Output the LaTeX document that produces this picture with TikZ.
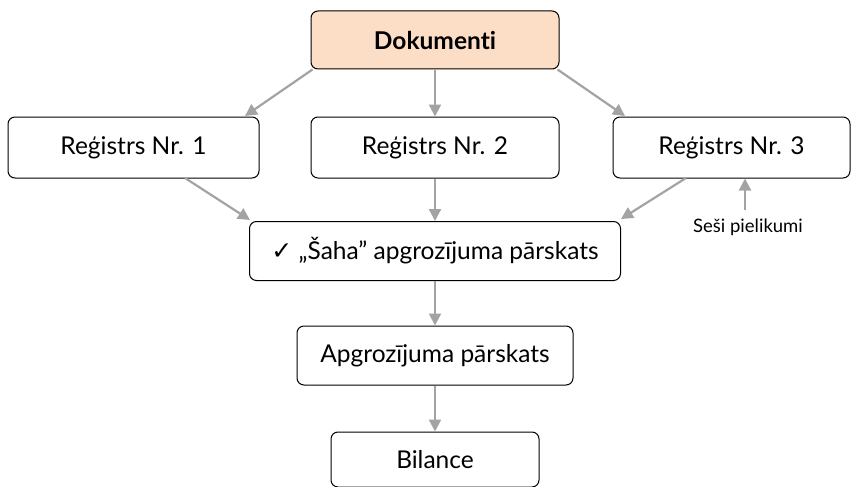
\documentclass[tikz,border=0pt]{standalone}
\usepackage{fontspec}
\setmainfont{Lato}[Ligatures={NoCommon}]
\newfontfamily\symfont{DejaVu Sans}
\usetikzlibrary{arrows.meta}
\definecolor{peach}{HTML}{FCDDC5}
\definecolor{arrowgray}{HTML}{A3A3A3}
\tikzset{
  box/.style={draw=black, line width=1pt, rounded corners=7pt, fill=white, align=center, inner sep=0pt, font=\fontsize{24.5}{28}\selectfont},
  conn/.style={draw=arrowgray, line width=2.2pt, -{Triangle[length=12pt,width=12pt]}},
}
\begin{document}
\begin{tikzpicture}[x=1pt,y=-1pt]
\useasboundingbox (0,0) rectangle (857,487);
\node[box, fill=peach, minimum width=248pt, minimum height=58pt, font=\fontsize{24.5}{28}\selectfont\bfseries] (dok) at (435,40) {Dokumenti};
\node[box, minimum width=251pt, minimum height=61pt] (r1) at (133.5,147.5) {Reģistrs Nr. 1};
\node[box, minimum width=248pt, minimum height=61pt] (r2) at (435,147.5) {Reģistrs Nr. 2};
\node[box, minimum width=237pt, minimum height=61pt] (r3) at (731.5,147.5) {Reģistrs Nr. 3};
\node[box, minimum width=371pt, minimum height=59pt] (saha) at (435,251) {{\symfont\fontsize{25}{28}\selectfont ✓} „Šaha” apgrozījuma pārskats};
\node[box, minimum width=276pt, minimum height=59pt] (apg) at (435,355.5) {Apgrozījuma pārskats};
\node[box, minimum width=208pt, minimum height=55pt] (bil) at (435,459.5) {Bilance};
\node[font=\fontsize{18.5}{22}\selectfont, inner sep=0pt] (sesi) at (748,227) {Seši pielikumi};

\draw[conn] (dok.south west) ++(2,0) coordinate (d1) -- (245,116);
\draw[conn] (dok.south) -- (r2.north);
\draw[conn] (dok.south east) ++(-2,0) coordinate (d3) -- (625,116);
\draw[conn] (185,178) -- (250,220);
\draw[conn] (r2.south) -- (saha.north);
\draw[conn] (686,178) -- (621,219);
\draw[conn] (745,210) -- (r3.south -| 745,0);
\draw[conn] (saha.south) -- (apg.north);
\draw[conn] (apg.south) -- (bil.north);
\end{tikzpicture}
\end{document}
